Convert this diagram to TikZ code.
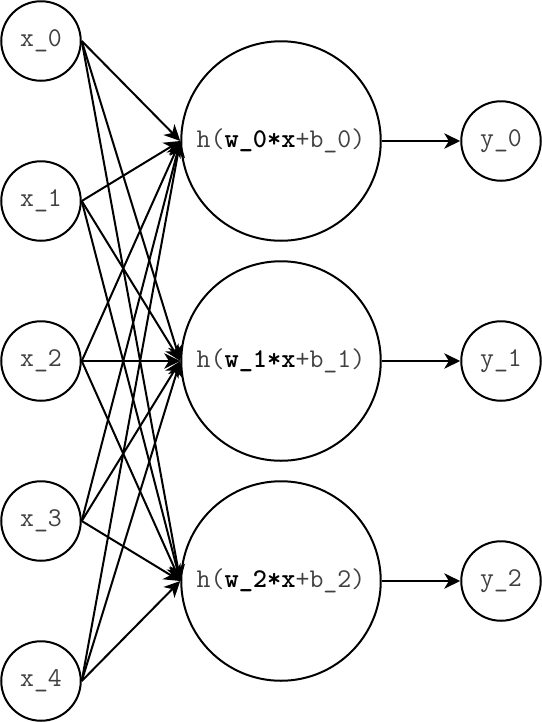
\documentclass[tikz,border=0pt]{standalone}
\usetikzlibrary{arrows.meta}
\begin{document}
\begin{tikzpicture}[x=0.75pt,y=-0.75pt,
  neuron/.style={draw, circle, line width=1.5pt, inner sep=0pt, minimum size=79.5*0.75pt,
    font=\ttfamily\fontsize{20.3}{23}\selectfont, text=black!75},
  bigneuron/.style={neuron, minimum size=199.5*0.75pt},
  conn/.style={line width=1.5pt, -{Stealth[length=12pt,width=11.5pt,inset=3.5pt]}}]
\useasboundingbox (0,0) rectangle (542,722);
\foreach \i/\y in {0/41,1/201,2/361,3/521,4/681}
  \node[neuron] (x\i) at (41,\y) {x\_\i};
\foreach \j/\y in {0/141,1/361,2/581} {
  \node[bigneuron] (h\j) at (281,\y) {h(\textbf{\color{black}w\_\j*x}+b\_\j)};
  \node[neuron] (y\j) at (501,\y) {y\_\j};
}
\foreach \i in {0,...,4}
  \foreach \j in {0,1,2}
    \draw[conn] (x\i.east) -- (h\j.west);
\foreach \j in {0,1,2}
  \draw[conn] (h\j.east) -- (y\j.west);
\end{tikzpicture}
\end{document}
